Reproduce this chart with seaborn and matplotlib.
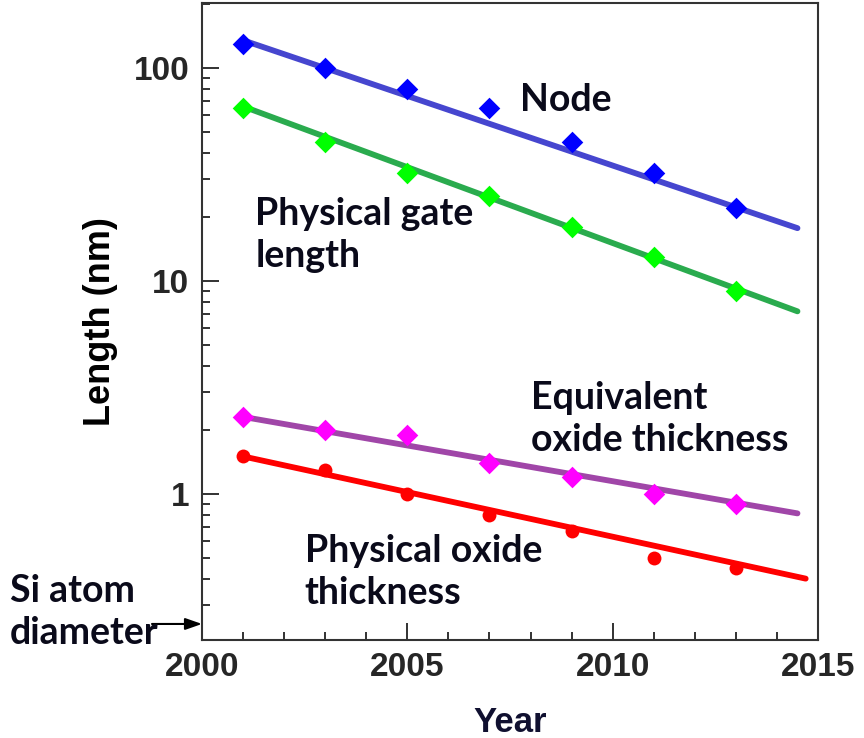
import matplotlib
matplotlib.use("Agg")
import matplotlib.pyplot as plt
import seaborn as sns
import pandas as pd
import numpy as np
from matplotlib.ticker import MultipleLocator, LogLocator, NullFormatter, FixedLocator, FixedFormatter

# ---- data ----
years = [2001, 2003, 2005, 2007, 2009, 2011, 2013]
node = [130, 100, 80, 65, 45, 32, 22]
gate_length = [65, 45, 32, 25, 18, 13, 9]
eot = [2.3, 2.0, 1.9, 1.4, 1.2, 1.0, 0.9]
phys_oxide = [1.5, 1.3, 1.0, 0.8, 0.67, 0.5, 0.45]

# trend lines (start / end values)
node_trend_years = [2001, 2014.5]
node_trend = [135, 17.7]
gate_trend_years = [2001, 2014.5]
gate_trend = [66, 7.2]
eot_trend_years = [2001, 2014.5]
eot_trend = [2.3, 0.81]
oxide_trend_years = [2001, 2014.7]
oxide_trend = [1.5, 0.40]

si_atom = 0.245
x_ticks = [2000, 2005, 2010, 2015]
y_ticks = [1, 10, 100]
y_tick_labels = ["1", "10", "100"]

sns.set_style("ticks")

fig = plt.figure(figsize=(8.64, 7.38), dpi=100)
ax = fig.add_axes([202/864, 1-640/738, (818-202)/864, (640-3)/738])
ax.set_yscale("log")

series = [
    (node, node_trend_years, node_trend, "#4646cf", "#0000ff", "D", 11),
    (gate_length, gate_trend_years, gate_trend, "#2aab4e", "#00ff00", "D", 11),
    (eot, eot_trend_years, eot_trend, "#a046a8", "#ff00ff", "D", 11),
    (phys_oxide, oxide_trend_years, oxide_trend, "#ff0000", "#ff0000", "o", 10),
]
for vals, ty, tv, lc, mc, mk, ms in series:
    dft = pd.DataFrame({"x": ty, "y": tv})
    sns.lineplot(data=dft, x="x", y="y", ax=ax, color=lc, linewidth=4.2, zorder=2)
    dfp = pd.DataFrame({"x": years, "y": vals})
    sns.scatterplot(data=dfp, x="x", y="y", ax=ax, color=mc, marker=mk,
                    s=ms**2, edgecolor=mc, linewidth=0, zorder=3)

ax.set_xlim(2000, 2015)
ax.set_ylim(0.206, 202)

ax.xaxis.set_major_locator(FixedLocator(x_ticks))
ax.xaxis.set_minor_locator(MultipleLocator(1))
ax.yaxis.set_major_locator(FixedLocator(y_ticks))
ax.yaxis.set_major_formatter(FixedFormatter(y_tick_labels))
ax.yaxis.set_minor_locator(LogLocator(base=10, subs=np.arange(2, 10)))
ax.yaxis.set_minor_formatter(NullFormatter())

for lab in ax.get_xticklabels() + ax.get_yticklabels():
    lab.set_fontfamily("Liberation Sans")
    lab.set_fontweight("bold")
    lab.set_fontsize(24)

ax.tick_params(axis="both", which="major", direction="in", length=12, width=1.3,
               color="#222222", pad=9)
ax.tick_params(axis="both", which="minor", direction="in", length=6, width=1.3,
               color="#222222")
ax.tick_params(axis="y", which="both", right=False)
ax.tick_params(axis="x", which="both", top=False)

for sp in ax.spines.values():
    sp.set_visible(True)
    sp.set_linewidth(1.5)
    sp.set_color("#333333")

ax.set_xlabel("Year", fontdict=dict(family="Liberation Sans", weight="bold", size=25),
              color="#101030", labelpad=16)
ax.set_ylabel("Length (nm)", fontdict=dict(family="Liberation Sans", weight="bold", size=26),
              color="black")
ax.yaxis.set_label_coords(-0.136, 0.5)

ann = dict(family="Lato", weight="bold", size=27, color="#0a0a1a")
ax.text(2007.75, 71, "Node", ha="left", va="center", **ann)
ax.text(2001.3, 16.4, "Physical gate\nlength", ha="left", va="center", linespacing=1.3, **ann)
ax.text(2008.0, 2.25, "Equivalent\noxide thickness", ha="left", va="center", linespacing=1.3, **ann)
ax.text(2002.5, 0.43, "Physical oxide\nthickness", ha="left", va="center", linespacing=1.3, **ann)
fig.text(10/864, 1-612/738, "Si atom\ndiameter", ha="left", va="center",
         linespacing=1.3, **ann)

ax.annotate("", xy=(2000, si_atom), xycoords="data",
            xytext=(-50, 0), textcoords="offset pixels",
            arrowprops=dict(arrowstyle="-|>,head_length=1.0,head_width=0.35",
                            color="black", lw=1.5, shrinkA=0, shrinkB=0),
            annotation_clip=False)

fig.savefig("out.png", dpi=100)
